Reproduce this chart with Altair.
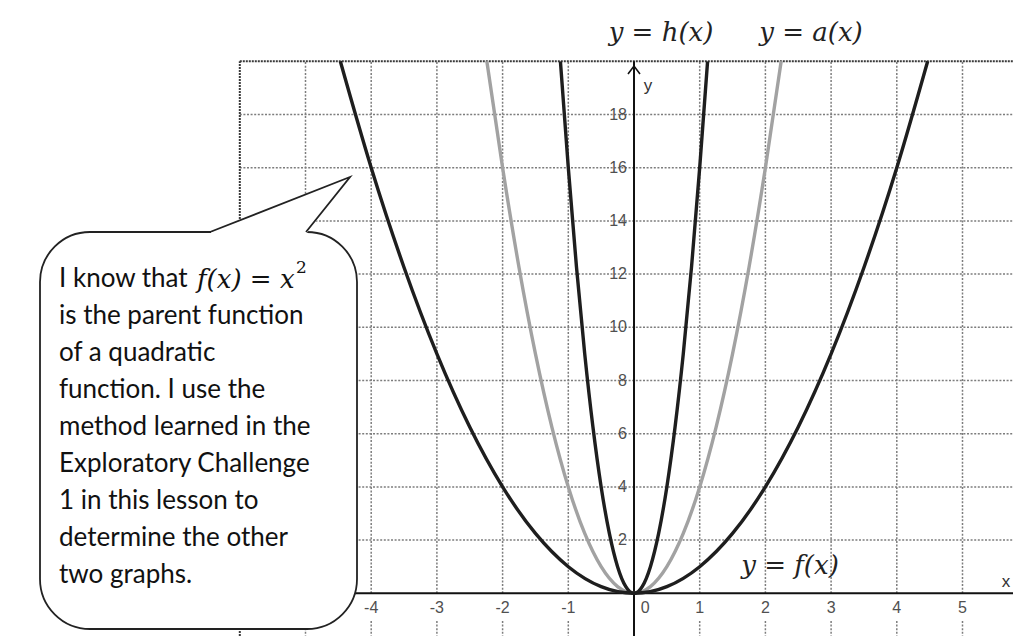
import altair as alt
import pandas as pd

# ---------------- data ----------------
curve_y = [20, 16, 12.25, 9, 6.25, 4, 2.25, 1, 0.25, 0, 0.25, 1, 2.25, 4, 6.25, 9, 12.25, 16, 20]
f_x = [-4.47, -4, -3.5, -3, -2.5, -2, -1.5, -1, -0.5, 0, 0.5, 1, 1.5, 2, 2.5, 3, 3.5, 4, 4.47]
a_x = [-2.24, -2, -1.75, -1.5, -1.25, -1, -0.75, -0.5, -0.25, 0, 0.25, 0.5, 0.75, 1, 1.25, 1.5, 1.75, 2, 2.24]
h_x = [-1.12, -1, -0.875, -0.75, -0.625, -0.5, -0.375, -0.25, -0.125, 0, 0.125, 0.25, 0.375, 0.5, 0.625, 0.75, 0.875, 1, 1.12]

x_ticks = [-4, -3, -2, -1, 0, 1, 2, 3, 4, 5]
y_ticks = [2, 4, 6, 8, 10, 12, 14, 16, 18]
grid_x = [-5, -4, -3, -2, -1, 1, 2, 3, 4, 5]
grid_y = [2, 4, 6, 8, 10, 12, 14, 16, 18]
grid_left = -6
grid_top = 20

callout_lines = [
    "I know that",
    "is the parent function",
    "of a quadratic",
    "function.  I use the",
    "method learned in the",
    "Exploratory Challenge",
    "1 in this lesson to",
    "determine the other",
    "two graphs.",
]
callout_math = "f(x) = x"
callout_sup = "2"
top_labels = ["y = h(x)", "y = a(x)"]
f_label = "y = f(x)"

# ---------------- page geometry ----------------
X0_PX, X_UNIT = 634.0, 65.7
Y0_PX, Y_UNIT = 593.3, 26.6
W, H = 1005, 628


def dx(px):
    return (px - X0_PX) / X_UNIT


def dy(py):
    return (Y0_PX - py) / Y_UNIT


XMIN, XMAX = dx(8), dx(8 + W)
YMIN, YMAX = dy(8 + H), dy(8)

xs = alt.Scale(domain=[XMIN, XMAX], nice=False, zero=False)
ys = alt.Scale(domain=[YMIN, YMAX], nice=False, zero=False)


def X(f):
    return alt.X(f, type="quantitative", scale=xs, axis=None)


def Y(f):
    return alt.Y(f, type="quantitative", scale=ys, axis=None)


GRID = dict(color="#7d7d7d", strokeWidth=1.5, strokeDash=[2, 1.6])

# grid
vg_up = pd.DataFrame({"x": grid_x, "y": [0] * len(grid_x), "y2": [grid_top] * len(grid_x)})
vg_dn = pd.DataFrame({"x": grid_x, "y": [dy(621)] * len(grid_x), "y2": [YMIN] * len(grid_x)})
hg = pd.DataFrame({"y": grid_y, "x": [grid_left] * len(grid_y), "x2": [XMAX] * len(grid_y)})

l_vg_up = alt.Chart(vg_up).mark_rule(**GRID).encode(x=X("x"), y=Y("y"), y2="y2")
l_vg_dn = alt.Chart(vg_dn).mark_rule(**GRID).encode(x=X("x"), y=Y("y"), y2="y2")
l_hg = alt.Chart(hg).mark_rule(**GRID).encode(y=Y("y"), x=X("x"), x2="x2")

border_h = pd.DataFrame({"y": [grid_top], "x": [grid_left], "x2": [XMAX]})
border_v = pd.DataFrame({"x": [grid_left], "y": [YMIN], "y2": [grid_top]})
BORDER = dict(color="#3a3a3a", strokeWidth=2, strokeDash=[2, 1])
l_bh = alt.Chart(border_h).mark_rule(**BORDER).encode(y=Y("y"), x=X("x"), x2="x2")
l_bv = alt.Chart(border_v).mark_rule(**BORDER).encode(x=X("x"), y=Y("y"), y2="y2")

# axes
xaxis = pd.DataFrame({"y": [0], "x": [grid_left], "x2": [XMAX]})
yaxis = pd.DataFrame({"x": [0], "y": [YMIN], "y2": [grid_top]})
l_xa = alt.Chart(xaxis).mark_rule(color="#111", strokeWidth=2).encode(y=Y("y"), x=X("x"), x2="x2")
l_ya = alt.Chart(yaxis).mark_rule(color="#111", strokeWidth=2).encode(x=X("x"), y=Y("y"), y2="y2")

arrow = pd.DataFrame({"x": [-6 / X_UNIT, 0, 6 / X_UNIT],
                      "y": [dy(74), dy(66), dy(74)], "o": [0, 1, 2]})
l_arrow = alt.Chart(arrow).mark_line(color="#111", strokeWidth=1.6).encode(
    x=X("x"), y=Y("y"), order="o:Q")

# curves
def curve(xv, color, width):
    d = pd.DataFrame({"x": xv, "y": curve_y})
    return alt.Chart(d).mark_line(color=color, strokeWidth=width, interpolate="monotone").encode(
        x=X("x"), y=Y("y"), order="x:Q")


l_a = curve(a_x, "#a2a2a2", 3.4)
l_f = curve(f_x, "#1e1e1e", 3.4)
l_h = curve(h_x, "#1e1e1e", 3.4)

# tick labels
TICK = dict(font="Liberation Sans", fontSize=16, color="#505050")
xl = pd.DataFrame({"x": [t + (0.17 if t == 0 else 0) for t in x_ticks],
                   "y": [dy(608)] * len(x_ticks),
                   "t": [str(t) for t in x_ticks]})
yl = pd.DataFrame({"x": [dx(627)] * len(y_ticks), "y": y_ticks, "t": [str(t) for t in y_ticks]})
l_xl = alt.Chart(xl).mark_text(align="center", baseline="middle", **TICK).encode(
    x=X("x"), y=Y("y"), text="t:N")
l_yl = alt.Chart(yl).mark_text(align="right", baseline="middle", **TICK).encode(
    x=X("x"), y=Y("y"), text="t:N")
axl = pd.DataFrame({"x": [dx(648), dx(1006)], "y": [dy(86), dy(582)], "t": ["y", "x"]})
l_axl = alt.Chart(axl).mark_text(align="center", baseline="middle", font="Liberation Sans",
                                 fontSize=17, color="#333").encode(x=X("x"), y=Y("y"), text="t:N")

# callout
box = pd.DataFrame({"x": [dx(40)], "x2": [dx(357)], "y": [dy(232)], "y2": [dy(629)]})
l_box = alt.Chart(box).mark_rect(fill="white", stroke="#222", strokeWidth=1.8, cornerRadius=50).encode(
    x=X("x"), x2="x2", y=Y("y"), y2="y2")
tri = pd.DataFrame({"x": [dx(211), dx(306), dx(350)],
                    "y": [dy(232), dy(194.5), dy(177)],
                    "y2": [dy(234), dy(234), dy(177)]})
l_tri = alt.Chart(tri).mark_area(color="white", opacity=1, interpolate="linear").encode(
    x=X("x"), y=Y("y"), y2="y2")
ptr = pd.DataFrame({"x": [dx(210), dx(350), dx(306)], "y": [dy(232), dy(177), dy(232)], "o": [0, 1, 2]})
l_ptr = alt.Chart(ptr).mark_line(color="#222", strokeWidth=1.8).encode(x=X("x"), y=Y("y"), order="o:Q")

line_px = [279, 316, 353, 390, 427, 464, 501, 538, 575]
ct = pd.DataFrame({"x": [dx(59)] * len(callout_lines), "y": [dy(p) for p in line_px], "t": callout_lines})
l_ct = alt.Chart(ct).mark_text(align="left", baseline="middle", font="Lato", fontSize=26,
                               color="#111").encode(x=X("x"), y=Y("y"), text="t:N")
cm = pd.DataFrame({"x": [dx(197)], "y": [dy(280)], "t": [callout_math]})
l_cm = alt.Chart(cm).mark_text(align="left", baseline="middle", font="DejaVu Serif", fontStyle="italic",
                               fontSize=26, color="#111").encode(x=X("x"), y=Y("y"), text="t:N")
cs = pd.DataFrame({"x": [dx(296)], "y": [dy(268)], "t": [callout_sup]})
l_cs = alt.Chart(cs).mark_text(align="left", baseline="middle", font="DejaVu Serif",
                               fontSize=17, color="#111").encode(x=X("x"), y=Y("y"), text="t:N")

# function labels
tl = pd.DataFrame({"x": [dx(661), dx(811), dx(790)], "y": [dy(33), dy(33), dy(566)],
                   "t": top_labels + [f_label]})
l_tl = alt.Chart(tl).mark_text(align="center", baseline="middle", font="DejaVu Serif", fontStyle="italic",
                               fontSize=26, color="#222").encode(x=X("x"), y=Y("y"), text="t:N")

chart = alt.layer(
    l_vg_up, l_vg_dn, l_hg, l_bh, l_bv, l_xa, l_ya, l_arrow,
    l_a, l_f, l_h,
    l_xl, l_yl, l_axl,
    l_box, l_tri, l_ptr, l_ct, l_cm, l_cs,
    l_tl,
).properties(
    width=W, height=H, autosize=alt.AutoSizeParams(type="none"), padding=0, background="white"
).configure_view(stroke=None)

chart.save("out.html", embed_options={"renderer": "svg", "actions": False})
